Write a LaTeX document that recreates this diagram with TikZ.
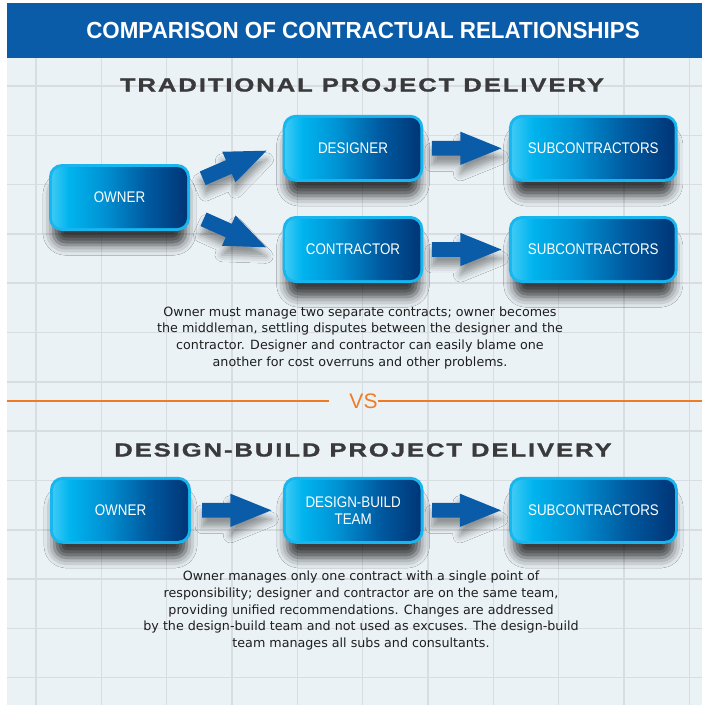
\documentclass[tikz,border=0pt]{standalone}
\usepackage{fontspec}
\setmainfont{Liberation Sans}
\newfontfamily\titlefont{Liberation Sans}[FakeStretch=0.96]
\newfontfamily\headfont{Liberation Sans}[FakeStretch=1.35,LetterSpace=10,FakeBold=1.2]
\newfontfamily\boxfont{Liberation Sans}[FakeStretch=0.87]
\newfontfamily\bodyfont{DejaVu Sans}
\usetikzlibrary{calc,shadows.blur}

\definecolor{bandblue}{HTML}{0A5BA8}
\definecolor{paper}{HTML}{EBF2F6}
\definecolor{gridgray}{HTML}{D8DDE1}
\definecolor{rim}{HTML}{18B6EF}
\definecolor{shA}{HTML}{45CDF6}
\definecolor{shB}{HTML}{00B4EE}
\definecolor{shC}{HTML}{0090D2}
\definecolor{shD}{HTML}{00599F}
\definecolor{shE}{HTML}{003374}
\definecolor{arrowblue}{HTML}{0A5BA8}
\definecolor{vsorange}{HTML}{F07B24}
\definecolor{ink}{HTML}{1E1E1E}
\definecolor{headgray}{HTML}{3A3A3C}

% left-to-right cyan to navy fill of the boxes
\pgfdeclarehorizontalshading{boxshade}{100bp}{color(0bp)=(shA); color(25bp)=(shA); color(32bp)=(shB); color(45bp)=(shC); color(60bp)=(shD); color(75bp)=(shE); color(100bp)=(shE)}

\tikzset{
  ctbox/.style={rounded corners=13pt, fill=rim, minimum height=67pt, inner sep=0pt,
    text=white, font=\boxfont\fontsize{15.4}{16.7}\selectfont,
    blur shadow={shadow xshift=0pt, shadow yshift=-17pt, shadow blur radius=11pt,
      shadow opacity=75, shadow scale=0.94},
    path picture={\shade[shading=boxshade, rounded corners=10pt]
      ([shift={(3pt,3pt)}]path picture bounding box.south west) rectangle
      ([shift={(-3pt,-3pt)}]path picture bounding box.north east);}},
  arrowfill/.style={fill=arrowblue,
    blur shadow={shadow xshift=0pt, shadow yshift=-9pt, shadow blur radius=7pt, shadow opacity=40}},
  gridline/.style={gridgray, line width=1.6pt},
  bodytext/.style={font=\bodyfont\fontsize{12.7}{16.6}\selectfont, text=ink, align=center,
    anchor=north, inner sep=0pt},
  heading/.style={font=\headfont\bfseries\fontsize{19}{22}\selectfont, text=headgray, anchor=base}
}

% block arrow from #1 (tail) to #2 (tip)
\newcommand\blockarrow[2]{%
  \coordinate (neck) at ($(#2)!41pt!(#1)$);
  \fill[arrowfill] ($(#1)!7.4pt!90:(#2)$) -- ($(neck)!7.4pt!-90:(#1)$)
    -- ($(neck)!16.6pt!-90:(#1)$) -- (#2) -- ($(neck)!16.6pt!90:(#1)$)
    -- ($(neck)!7.4pt!90:(#1)$) -- ($(#1)!7.4pt!-90:(#2)$) -- cycle;}

\begin{document}
\begin{tikzpicture}[x=1pt, y=-1pt]
\useasboundingbox (0,0) rectangle (702,705);
\fill[white] (0,0) rectangle (702,705);
\fill[paper] (7,3) rectangle (702,705);

% grid paper
\foreach \i in {0,...,10} \draw[gridline] ({36+65.33*\i},58) -- ({36+65.33*\i},705);
\foreach \j in {0,...,12} \draw[gridline] (7,{86+49.3*\j}) -- (702,{86+49.3*\j});

% header band
\fill[bandblue] (7,3) rectangle (702,58);
\node[font=\titlefont\bfseries\fontsize{23.3}{28}\selectfont, text=white, anchor=base] (title)
  at (363,38.3) {COMPARISON OF CONTRACTUAL RELATIONSHIPS};

% section headings
\node[heading] (h1) at (362,91.5) {TRADITIONAL PROJECT DELIVERY};
\node[heading] (h2) at (363,456.5) {DESIGN-BUILD PROJECT DELIVERY};

% VS divider
\node[font=\fontsize{21}{24}\selectfont, text=vsorange, anchor=base, inner sep=0pt] (vs) at (363.5,408.5) {VS};
\coordinate (vl) at (7,401);
\coordinate (vr) at (702,401);
\coordinate (vsl) at ($(vs.west)+(-20.5,0)$);
\draw[vsorange, line width=2.4pt] (vl) -- (vl -| vsl);
\draw[vsorange, line width=2.4pt] (vr) -- (vr -| vs.east);

% traditional delivery
\node[ctbox, minimum width=141pt] (own1) at (119.5,197.5) {OWNER};
\node[ctbox, minimum width=140.6pt] (des) at (353,148.3) {DESIGNER};
\node[ctbox, minimum width=168.7pt] (sub1) at (593.3,148.3) {SUBCONTRACTORS};
\node[ctbox, minimum width=140.6pt] (con) at (353,249.5) {CONTRACTOR};
\node[ctbox, minimum width=168.7pt] (sub2) at (593.3,249.5) {SUBCONTRACTORS};

\coordinate (a1s) at ($(own1.east)+(12.5,-19.2)$);
\coordinate (a1e) at ($(des.west)+(-16,2.4)$);
\coordinate (a2s) at ($(own1.east)+(13.3,21.8)$);
\coordinate (a2e) at ($(con.west)+(-16.3,-2.2)$);
\coordinate (a3s) at ($(des.east)+(8.4,0)$);
\coordinate (a3e) at ($(sub1.west)+(-7.3,0)$);
\coordinate (a4s) at ($(con.east)+(8.4,0)$);
\coordinate (a4e) at ($(sub2.west)+(-7.3,0)$);
\blockarrow{a1s}{a1e}
\blockarrow{a2s}{a2e}
\blockarrow{a3s}{a3e}
\blockarrow{a4s}{a4e}

\node[bodytext] (p1) at (360,304.4) {\strut Owner must manage two separate contracts; owner becomes\\
the middleman, settling disputes between the designer and the\\
contractor. Designer and contractor can easily blame one\\
another for cost overruns and other problems.};

% design-build delivery
\node[ctbox, minimum width=141pt] (own2) at (120.5,510.3) {OWNER};
\node[ctbox, minimum width=140.6pt, align=center] (dbt) at (353.2,510.3) {DESIGN-BUILD\\TEAM};
\node[ctbox, minimum width=168.7pt] (sub3) at (593.5,510.3) {SUBCONTRACTORS};

\coordinate (a5s) at ($(own2.east)+(11,0)$);
\coordinate (a5e) at ($(dbt.west)+(-11.3,0)$);
\coordinate (a6s) at ($(dbt.east)+(8.5,0)$);
\coordinate (a6e) at ($(sub3.west)+(-8,0)$);
\blockarrow{a5s}{a5e}
\blockarrow{a6s}{a6e}

\node[bodytext] (p2) at (361,569) {\strut Owner manages only one contract with a single point of\\
responsibility; designer and contractor are on the same team,\\
providing unified recommendations. Changes are addressed\\
by the design-build team and not used as excuses. The design-build\\
team manages all subs and consultants.};
\end{tikzpicture}
\end{document}
